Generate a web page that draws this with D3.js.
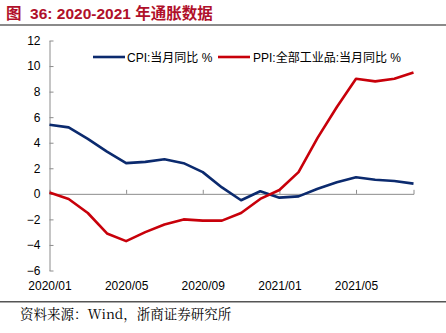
<!DOCTYPE html>
<html><head><meta charset="utf-8">
<script src="https://cdn.jsdelivr.net/npm/d3@7/dist/d3.min.js"></script>
<style>body{margin:0;background:#fff}svg{display:block}</style>
</head><body><svg id="c" width="446" height="333"></svg>
<script>
const months = ["2020/01","2020/02","2020/03","2020/04","2020/05","2020/06","2020/07","2020/08","2020/09","2020/10","2020/11","2020/12","2021/01","2021/02","2021/03","2021/04","2021/05","2021/06","2021/07","2021/08"];
const cpi = [5.4,5.2,4.3,3.3,2.4,2.5,2.7,2.4,1.7,0.5,-0.5,0.2,-0.3,-0.2,0.4,0.9,1.3,1.1,1.0,0.8];
const ppi = [0.1,-0.4,-1.5,-3.1,-3.7,-3.0,-2.4,-2.0,-2.1,-2.1,-1.5,-0.4,0.3,1.7,4.4,6.8,9.0,8.8,9.0,9.5];
const xTickLabels = ["2020/01","2020/05","2020/09","2021/01","2021/05"];
const yTicks = [12,10,8,6,4,2,0,-2,-4,-6];
const seriesNames = ["CPI:当月同比 %","PPI:全部工业品:当月同比 %"];
const colors = ["#0b2a6e","#c8000a"];

const svg = d3.select("#c");
const font = "Arial, 'Liberation Sans', 'Noto Sans CJK SC', sans-serif";

// title
svg.append("text").attr("x",6).attr("y",18.5).attr("fill","#b0102a")
  .attr("font-family",font).attr("font-weight","bold").attr("font-size",15.5)
  .style("white-space","pre")
  .text("图  36: 2020-2021 年通胀数据");
svg.append("rect").attr("x",0).attr("y",24).attr("width",446).attr("height",2).attr("fill","#8a8a8a");

const x = d3.scalePoint().domain(months).range([49.5,413.5]);
const y = d3.scaleLinear().domain([-6,12]).range([270.5,40.5]);

// y axis
const yAxis = d3.axisLeft(y).tickValues(yTicks).tickSize(0).tickPadding(9).tickFormat(d3.format("d"));
const gy = svg.append("g").attr("transform","translate(49.5,0)").call(yAxis);
gy.select(".domain").attr("stroke","#8c8c8c");
gy.selectAll("text").attr("font-family",font).attr("font-size",12).attr("fill","#000");
gy.selectAll(".tick").append("line").attr("x1",0).attr("x2",4).attr("stroke","#8c8c8c");

// x axis on zero line
const xAxis = d3.axisTop(x).tickValues(xTickLabels).tickSize(4).tickFormat("");
const gx = svg.append("g").attr("transform",`translate(0,${y(0)})`).call(xAxis);
gx.select(".domain").attr("stroke","#8c8c8c");
gx.selectAll(".tick line").attr("stroke","#8c8c8c");
gx.selectAll(".tick").filter(d=>d==="2020/01").remove();

// x labels at bottom
const xl = d3.axisBottom(x).tickValues(xTickLabels).tickSize(0).tickPadding(0);
const gxl = svg.append("g").attr("transform","translate(0,281)").call(xl);
gxl.select(".domain").remove();
gxl.selectAll("text").attr("font-family",font).attr("font-size",12).attr("fill","#000").attr("dy","0.71em");

// lines
const line = d3.line().x((d,i)=>x(months[i])).y(d=>y(d));
[cpi,ppi].forEach((s,k)=>{
  svg.append("path").datum(s).attr("d",line).attr("fill","none")
    .attr("stroke",colors[k]).attr("stroke-width",2.6).attr("stroke-linejoin","round");
});

// legend
const leg = [[93,127],[218,253]];
seriesNames.forEach((n,k)=>{
  svg.append("line").attr("x1",leg[k][0]).attr("x2",leg[k][0]+32).attr("y1",57).attr("y2",57)
    .attr("stroke",colors[k]).attr("stroke-width",2.6);
  svg.append("text").attr("x",leg[k][1]).attr("y",61.5).attr("font-family",font)
    .attr("font-size",12).attr("fill","#000").text(n);
});

// bottom rule + source
svg.append("rect").attr("x",0).attr("y",301).attr("width",446).attr("height",1.5).attr("fill","#555");
svg.append("text").attr("x",20).attr("y",319).attr("font-family","'Noto Serif CJK SC','Liberation Serif', 'Noto Sans CJK SC', serif")
  .attr("font-size",13.5).attr("fill","#000").text("资料来源：Wind，浙商证券研究所");
</script></body></html>
